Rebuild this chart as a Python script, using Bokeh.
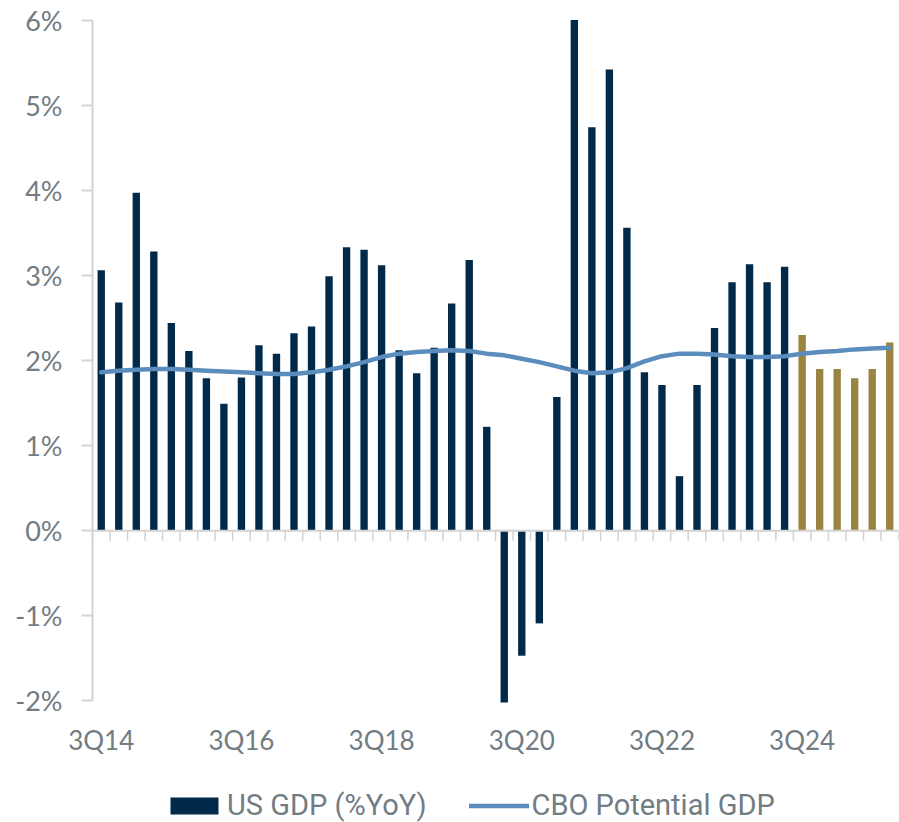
from bokeh.plotting import figure
from bokeh.models import (Range1d, FixedTicker, PrintfTickFormatter,
                          Legend, LegendItem, ColumnDataSource)
from bokeh.embed import file_html
from bokeh.resources import INLINE

# ---------------- data ----------------
quarters = ["3Q14", "4Q14", "1Q15", "2Q15", "3Q15", "4Q15", "1Q16", "2Q16",
            "3Q16", "4Q16", "1Q17", "2Q17", "3Q17", "4Q17", "1Q18", "2Q18",
            "3Q18", "4Q18", "1Q19", "2Q19", "3Q19", "4Q19", "1Q20", "2Q20",
            "3Q20", "4Q20", "1Q21", "2Q21", "3Q21", "4Q21", "1Q22", "2Q22",
            "3Q22", "4Q22", "1Q23", "2Q23", "3Q23", "4Q23", "1Q24", "2Q24",
            "3Q24", "4Q24", "1Q25", "2Q25", "3Q25", "4Q25"]

gdp_actual = [3.06, 2.68, 3.97, 3.28, 2.44, 2.11, 1.79, 1.49, 1.80, 2.18,
              2.08, 2.32, 2.40, 2.99, 3.33, 3.30, 3.12, 2.12, 1.85, 2.15,
              2.67, 3.18, 1.22, -2.02, -1.47, -1.09, 1.57, 6.00, 4.74, 5.42,
              3.56, 1.86, 1.71, 0.64, 1.71, 2.38, 2.92, 3.13, 2.92, 3.10]

gdp_forecast = [2.30, 1.90, 1.90, 1.79, 1.90, 2.21]

cbo_potential = [1.86, 1.88, 1.89, 1.90, 1.90, 1.89, 1.88, 1.87, 1.86, 1.85,
                 1.84, 1.84, 1.86, 1.89, 1.93, 1.98, 2.04, 2.08, 2.10, 2.11,
                 2.12, 2.11, 2.08, 2.06, 2.02, 1.98, 1.93, 1.88, 1.85, 1.86,
                 1.91, 1.99, 2.05, 2.08, 2.08, 2.07, 2.05, 2.04, 2.04, 2.05,
                 2.08, 2.10, 2.11, 2.13, 2.14, 2.15]

x_tick_labels = ["3Q14", "3Q16", "3Q18", "3Q20", "3Q22", "3Q24"]
y_ticks = [-2, -1, 0, 1, 2, 3, 4, 5, 6]

# ---------------- style ----------------
NAVY = "#012A4A"
GOLD = "#9A8442"
LINE = "#5A8DBD"
AXIS = "#D3D3D3"
TEXT = "#717C83"
FONT = "Lato"
LEGEND_FONT = "Roboto"

n = len(quarters)
idx = list(range(n))
n_act = len(gdp_actual)
x_lo, x_hi = -0.5, n - 0.5

# The frame covers the whole canvas so that tick labels and legend sit inside it;
# both axes are pinned to data locations and bounded to the data area.
X_LEFT = -5.75
Y_BOTTOM = -3.43
Y_TOP = 6.23
p = figure(width=899, height=822, output_backend="svg", toolbar_location=None,
           x_range=Range1d(X_LEFT, x_hi), y_range=Range1d(Y_BOTTOM, Y_TOP),
           min_border_left=0, min_border_right=1, min_border_top=0,
           min_border_bottom=0, outline_line_color=None)
p.grid.visible = False
p.background_fill_color = "white"
p.border_fill_color = "white"

src_a = ColumnDataSource(dict(x=idx[:n_act], top=gdp_actual))
src_f = ColumnDataSource(dict(x=idx[n_act:], top=gdp_forecast))
src_l = ColumnDataSource(dict(x=idx, y=cbo_potential))

bars_a = p.vbar(x="x", top="top", bottom=0, width=0.42, source=src_a,
                fill_color=NAVY, line_color=None)
bars_f = p.vbar(x="x", top="top", bottom=0, width=0.42, source=src_f,
                fill_color=GOLD, line_color=None)

# zero axis line and category tick marks
p.segment(x0=[x_lo], x1=[x_hi], y0=[0], y1=[0], line_color=AXIS, line_width=2)
bounds = [i - 0.5 for i in range(n + 1)]
p.segment(x0=bounds, x1=bounds, y0=[0] * len(bounds), y1=[-0.12] * len(bounds),
          line_color=AXIS, line_width=1.5)

line = p.line(x="x", y="y", source=src_l, line_color=LINE, line_width=4.5,
              line_cap="round", line_join="round")

# y axis
ya = p.yaxis[0]
ya.fixed_location = x_lo
ya.bounds = (y_ticks[0], y_ticks[-1])
ya.ticker = FixedTicker(ticks=y_ticks)
ya.formatter = PrintfTickFormatter(format="%d%%")
ya.axis_line_color = AXIS
ya.axis_line_width = 2
ya.major_tick_line_color = AXIS
ya.major_tick_line_width = 2
ya.major_tick_out = 11
ya.major_tick_in = 0
ya.minor_tick_out = 0
ya.minor_tick_in = 0
ya.major_label_standoff = 19
ya.major_label_text_font = FONT
ya.major_label_text_font_size = "27px"
ya.major_label_text_color = TEXT

# x axis (labels only), pinned at the bottom of the value range
xa = p.xaxis[0]
xa.fixed_location = y_ticks[0]
tick_pos = [quarters.index(q) for q in x_tick_labels]
xa.ticker = FixedTicker(ticks=tick_pos)
xa.major_label_overrides = {i: q for i, q in zip(tick_pos, x_tick_labels)}
xa.axis_line_color = None
xa.major_tick_line_color = None
xa.minor_tick_line_color = None
xa.major_tick_out = 0
xa.major_tick_in = 0
xa.major_label_standoff = 23
xa.major_label_text_font = FONT
xa.major_label_text_font_size = "26px"
xa.major_label_text_color = TEXT

legend = Legend(items=[LegendItem(label="US GDP (%YoY)", renderers=[bars_a]),
                       LegendItem(label="CBO Potential GDP", renderers=[line])],
                orientation="horizontal", location=(164, 0),
                glyph_width=60, glyph_height=21, label_standoff=3, spacing=42,
                padding=0, margin=0, border_line_alpha=0, background_fill_alpha=0,
                label_text_font=LEGEND_FONT, label_text_font_size="29px",
                label_text_color=TEXT)
p.add_layout(legend, "center")

open("out.html", "w").write(file_html(p, INLINE))
